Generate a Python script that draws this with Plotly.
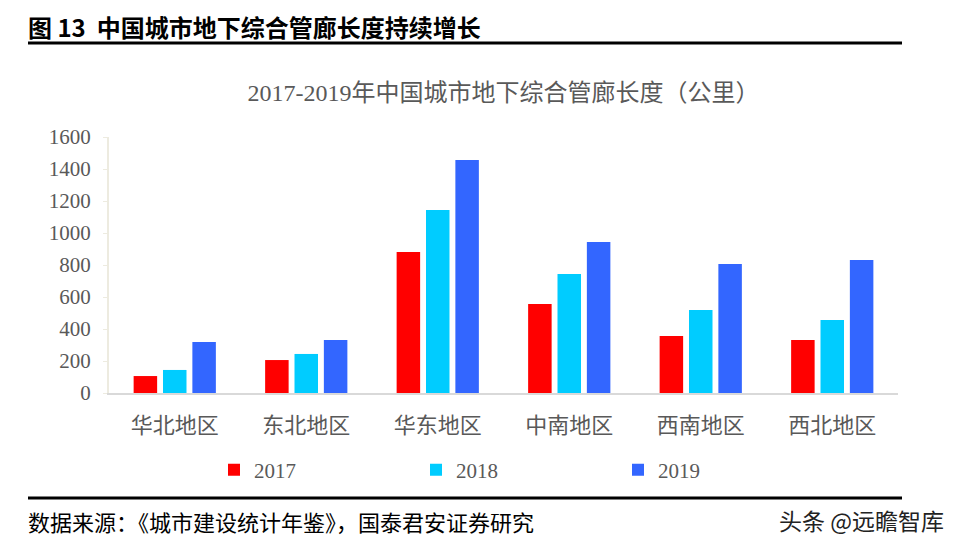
import plotly.graph_objects as go

categories = ["华北地区", "东北地区", "华东地区", "中南地区", "西南地区", "西北地区"]
years = ["2017", "2018", "2019"]
values_2017 = [106, 206, 881, 556, 356, 331]
values_2018 = [144, 244, 1144, 744, 519, 456]
values_2019 = [319, 331, 1456, 944, 806, 831]
series = [values_2017, values_2018, values_2019]
colors = ["#FF0000", "#00CCFF", "#3366FF"]
y_ticks = [0, 200, 400, 600, 800, 1000, 1200, 1400, 1600]

# page body adds an 8px offset; design in reference pixel coordinates
OFF = 8
W, H = 958 - OFF, 546 - OFF
L, R, T, B = 109 - OFF, 60, 137 - OFF, 153
pw = W - L - R
ph = H - T - B

def px_x(x):
    return (x - OFF - L) / pw

def px_y(y):
    return (H - B - (y - OFF)) / ph

fig = go.Figure()
for name, vals, c in zip(years, series, colors):
    fig.add_trace(go.Bar(name=name, x=categories, y=vals, marker=dict(color=c, line=dict(width=0))))

serif_cjk = "Liberation Serif, Noto Sans CJK SC, serif"
fig.update_layout(
    width=W, height=H,
    margin=dict(l=L, r=R, t=T, b=B),
    paper_bgcolor="white", plot_bgcolor="white",
    barmode="group", bargap=0.33, bargroupgap=0.2,
    showlegend=True,
    legend=dict(orientation="h", x=px_x(214), y=px_y(470), xanchor="left", yanchor="middle",
                font=dict(family="Liberation Serif, serif", size=21, color="#595959"),
                entrywidth=157, entrywidthmode="pixels", itemwidth=30,
                bgcolor="rgba(0,0,0,0)"),
    title=dict(text="2017-2019年中国城市地下综合管廊长度（公里）",
               x=0.5, xref="paper", xanchor="center",
               y=1 - (93 - OFF) / H, yref="container", yanchor="middle",
               font=dict(family=serif_cjk, size=24, color="#595959")),
    xaxis=dict(showgrid=False, showline=True, linecolor="#D9D9D9", linewidth=2,
               ticks="", ticklabelstandoff=12,
               tickfont=dict(family="Noto Sans CJK SC, sans-serif", size=22, color="#595959")),
    yaxis=dict(range=[0, 1600], tickvals=y_ticks, showgrid=False, zeroline=False,
               showline=True, linecolor="#EDEBE0", linewidth=2,
               ticks="outside", ticklen=4, tickcolor="#EDEBE0", ticklabelstandoff=8,
               tickfont=dict(family="Liberation Serif, serif", size=21, color="#595959")),
)

fig.add_annotation(text="<b>图 13  中国城市地下综合管廊长度持续增长</b>", xref="paper", yref="paper",
                   x=px_x(26), y=px_y(26), xanchor="left", yanchor="middle", showarrow=False,
                   font=dict(family="Noto Sans CJK SC, sans-serif", size=24, color="#000000"))
fig.add_annotation(text="数据来源：《城市建设统计年鉴》，国泰君安证券研究", xref="paper", yref="paper",
                   x=px_x(26), y=px_y(521), xanchor="left", yanchor="middle", showarrow=False,
                   font=dict(family="Noto Sans CJK SC, sans-serif", size=22, color="#000000"))
fig.add_annotation(text="头条 @远瞻智库", xref="paper", yref="paper",
                   x=px_x(946), y=px_y(520), xanchor="right", yanchor="middle", showarrow=False,
                   font=dict(family="Noto Sans CJK SC, sans-serif", size=23, color="#222222"))

fig.add_shape(type="line", xref="paper", yref="paper", x0=px_x(28), x1=px_x(902), y0=px_y(43), y1=px_y(43),
              line=dict(color="black", width=3))
fig.add_shape(type="line", xref="paper", yref="paper", x0=px_x(28), x1=px_x(902), y0=px_y(498), y1=px_y(498),
              line=dict(color="black", width=3))

fig.write_html("out.html")
